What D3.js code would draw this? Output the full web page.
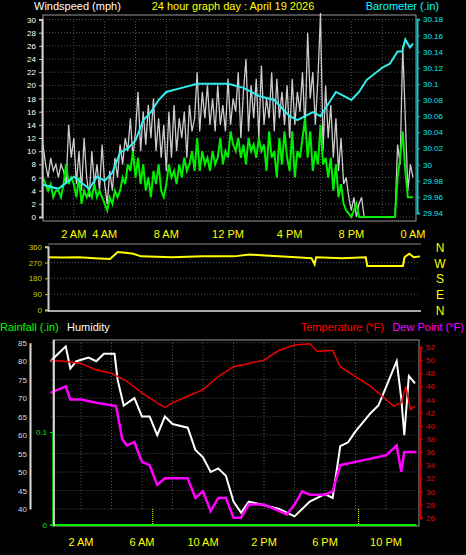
<!DOCTYPE html>
<html><head><meta charset="utf-8">
<script src="https://cdn.jsdelivr.net/npm/d3@7"></script>
<style>body{margin:0;background:#000}svg{display:block}text{font-family:"Liberation Sans",Arial,sans-serif}</style>
</head><body><svg id="c" width="466" height="555"></svg>
<script>
// ---- data ----
const windGust=[11,8,6,9,7,8, 6,8,7,5,14,9, 12,5,10,4,12,6, 3,10,5,8,4,11, 5,2,7,4,9,6, 11,8,12,10,15,9, 13,19,10,16,11,17, 12,18,10,15,9,14, 7,16,9,17,10,15, 12,16,9,17,13,15, 22,13,19,15,20,14, 18,13,20,14,17,13, 21,14,18,16,22,12, 19,24,13,20,15,21, 12,23,14,18,15,22, 13,21,15,19,14,20, 12,21,14,19,16,22, 13,28,18,22,14,21, 31,10,20,12,17,9, 15,7,12,5,6,3, 1,3,0,2,3,0, 0,0,0,0,0,0, 0,0,0,0,0,0, 11,8,26,15,4,8, 6];
const windAvg=[6,5,4,5,3,4, 4,3,5,8,5,6, 5,3,6,2,4,3, 4,3,5,3,4,3, 2,1,3,2,4,3, 4,6,5,8,7,10, 6,9,5,8,4,6, 3,7,5,8,4,3, 5,8,6,7,5,8, 6,9,7,8,10,7, 12,7,10,8,9,7, 10,8,9,12,8,10, 9,13,11,10,12,9, 11,8,12,10,11,9, 12,10,11,7,13,9, 10,6,12,8,13,9, 7,13,6,10,9,12, 15,9,13,7,10,8, 14,8,9,6,9,4, 8,3,5,2,1,0.5, 0,1,2,0,0,0, 0,0,0,0,0,0, 0,0,0,0,0,0, 6,9,13,7,3,3, 3];
const baroT=[0,1,2,3,3.5,4,4.5,5,5.5,6,6.5,7,7.5,8,9,10,11,12,13,14,15,16,16.5,17,17.5,18,18.5,19,19.5,20,20.5,21,22,22.5,23,23.3,23.5,23.8,24];
const baroV=[29.975,29.97,29.985,29.97,29.985,29.98,29.99,30.015,30.02,30.03,30.055,30.065,30.08,30.09,30.095,30.1,30.1,30.1,30.095,30.085,30.08,30.06,30.055,30.06,30.065,30.06,30.075,30.09,30.085,30.08,30.09,30.105,30.12,30.125,30.14,30.14,30.155,30.145,30.15];
const dirT=[0,1,2,3,4,4.5,5,5.5,6,8,10,12,13,14,16,17,17.2,17.3,19,20.5,20.6,22.9,23,23.3,23.6,24];
const dirV=[300,298,300,295,290,330,325,320,305,300,305,305,315,310,300,295,260,300,295,300,250,250,300,320,300,305];
const humT=[0,0.5,1,1.3,1.7,2.5,3,3.5,4.2,4.4,4.8,5.5,6,6.5,7,7.5,8,9,9.5,10,10.5,11,11.5,12,12.5,13,14,15,16,17,18,18.5,19,19.5,20,21,21.5,22,22.7,23,23.2,23.5,23.9];
const humV=[80,82,84,78,80,81,80,82,82,75,68,70,65,65,60,65,63,62,56,54,50,51,49,42,39,42,41,40,38,42,44,43,57,58,61,66,68,73,80,70,60,76,74];
const dewT=[0,1,1.3,2,3,4.3,4.7,5,5.5,6,6.5,7,7.5,9,9.5,10,10.5,11,11.5,12,12.5,13,14,15,15.5,16,16.5,17,18,18.5,19,20,21,22,22.7,23,23.2,24];
const dewV=[45,46,44,44,43.5,43,38,37,37.5,34.5,34,31,32,32,29,30,27,29,29,26,26,28,28,27,26.5,28,30,29.5,29.5,30,34,34.5,35,35.5,37,33,36,36];
const tempT=[0,1,2,3,4,5,6,7,7.5,8,9,10,11,12,13,14,15,16,17,17.5,18.5,19,20,21,22,22.5,23,23.3,23.6,23.9];
const tempV=[50,49.8,49.5,48.5,48,46.8,45,43.5,42.8,43.5,44.5,45.5,47.5,49,49.5,50,51.5,52.3,52.5,51.3,51.5,49,47.5,46,44,43,43.5,46,42.5,43];
const rainV=[0,0];
const topTicks=[[2,"2 AM"],[4,"4 AM"],[8,"8 AM"],[12,"12 PM"],[16,"4 PM"],[20,"8 PM"],[24,"0 AM"]];
const botTicks=[[2,"2 AM"],[6,"6 AM"],[10,"10 AM"],[14,"2 PM"],[18,"6 PM"],[22,"10 PM"]];
const compass=["N","W","S","E","N"];
const sunEvents=[6.7,20.2];

const svg=d3.select("#c");
const grid="#555",frame="#999";
function txt(x,y,s,c,anchor,size){svg.append("text").attr("x",x).attr("y",y).attr("fill",c).attr("font-size",size||10).attr("text-anchor",anchor||"start").text(s);}
function gridLines(x,y,xv,yv){
  const g=svg.append("g").attr("stroke",grid).attr("stroke-dasharray","1,2");
  xv.forEach(v=>g.append("line").attr("x1",x(v)).attr("x2",x(v)).attr("y1",y.range()[0]).attr("y2",y.range()[1]));
  yv.forEach(v=>g.append("line").attr("y1",y(v)).attr("y2",y(v)).attr("x1",x.range()[0]).attr("x2",x.range()[1]));
}
function line(x,y,ts,vs,c,w){svg.append("path").attr("d",d3.line().x((d,i)=>x(ts[i])).y(d=>y(d))(vs)).attr("fill","none").attr("stroke",c).attr("stroke-width",w||1.5);}

// ---- top panel ----
txt(34,10,"Windspeed (mph)","#fff","start",11);
txt(233,10,"24 hour graph day : April 19 2026","#ff0","middle",11);
txt(439,10,"Barometer (.in)","#0ff","end",11);
const x1=d3.scaleLinear([0,24],[43,413]);
const y1=d3.scaleLinear([0,30],[217,19.5]);
const yb=d3.scaleLinear([29.94,30.18],[213,19.3]);
gridLines(x1,y1,d3.range(2,24,2),d3.range(0,31,2));
svg.append("rect").attr("x",43).attr("y",15).attr("width",373).attr("height",206).attr("fill","none").attr("stroke",frame);
const step=24/(windGust.length-1), stepA=24/(windAvg.length-1);
line(x1,y1,windGust.map((d,i)=>i*step),windGust,"#ccc",1.3);
line(x1,y1,windAvg.map((d,i)=>i*stepA),windAvg,"#0e0",2);
line(x1,yb,baroT,baroV,"#3ee",2);
svg.append("g").attr("transform","translate(42,0)").call(d3.axisLeft(y1).tickValues(d3.range(0,31,2)).tickSize(3)).call(g=>{g.select(".domain").attr("stroke","#ccc").attr("stroke-width",2);g.selectAll("line").attr("stroke","#ccc");g.selectAll("text").attr("fill","#fff").attr("font-size",8);});
svg.append("g").attr("transform","translate(417,0)").call(d3.axisRight(yb).tickValues(d3.range(29.94,30.181,0.02)).tickFormat(d=>+d.toFixed(2)).tickSize(3)).call(g=>{g.select(".domain").attr("stroke","#0cc").attr("stroke-width",2);g.selectAll("line").attr("stroke","#0cc");g.selectAll("text").attr("fill","#0ee").attr("font-size",8);});
topTicks.forEach(([h,s])=>txt(x1(h),238,s,"#ff0","middle",11));

// ---- middle panel ----
const x2=d3.scaleLinear([0,24],[48,420]);
const y2=d3.scaleLinear([0,360],[310,246.7]);
gridLines(x2,y2,[],[90,180,270]);
svg.append("line").attr("x1",48).attr("x2",421).attr("y1",244).attr("y2",244).attr("stroke","#888");
svg.append("line").attr("x1",48).attr("x2",421).attr("y1",311).attr("y2",311).attr("stroke","#aaa").attr("stroke-width",2);
line(x2,y2,dirT,dirV,"#ff0",2);
svg.append("g").attr("transform","translate(48,0)").call(d3.axisLeft(y2).tickValues([0,90,180,270,360]).tickSize(3)).call(g=>{g.select(".domain").attr("stroke","#ccc").attr("stroke-width",2);g.selectAll("line").attr("stroke","#cc0");g.selectAll("text").attr("fill","#cc0").attr("font-size",8);});
compass.forEach((s,i)=>txt(440,y2(360-i*90)+5,s,"#ff0","middle",12));

// ---- bottom panel ----
txt(0,331,"Rainfall (.in)","#0f0","start",11);
txt(67,331,"Humidity","#fff","start",11);
txt(384,331,"Temperature (°F)","#f00","end",11);
txt(464,331,"Dew Point (°F)","#f0f","end",11);
const x3=d3.scaleLinear([0,24],[50.5,416.5]);
const yh=d3.scaleLinear([40,85],[509,342.7]);
const yt=d3.scaleLinear([26,52],[517.7,347]);
const yr=d3.scaleLinear([0,0.1],[525,432]);
gridLines(x3,yh,d3.range(2,24,2),d3.range(40,86,5));
svg.append("rect").attr("x",53).attr("y",340).attr("width",366).attr("height",186).attr("fill","none").attr("stroke",frame);
sunEvents.forEach(h=>svg.append("line").attr("x1",x3(h)).attr("x2",x3(h)).attr("y1",509).attr("y2",525).attr("stroke","#ff0").attr("stroke-dasharray","1,1"));
line(x3,yh,humT,humV,"#fff",2);
line(x3,yt,dewT,dewV,"#f0f",2.5);
line(x3,yt,tempT,tempV,"#e00",1.5);
line(x3,yr,[0,24],rainV,"#0e0",2);
svg.append("g").attr("transform","translate(30,0)").call(d3.axisLeft(yh).tickValues(d3.range(40,86,5)).tickSize(0)).call(g=>{g.select(".domain").attr("stroke","#ddd").attr("stroke-width",2);g.selectAll("text").attr("fill","#ddd").attr("font-size",8);});
svg.append("g").attr("transform","translate(52,0)").call(d3.axisLeft(yr).tickValues([0,0.1]).tickFormat(d3.format("")).tickSize(2)).call(g=>{g.select(".domain").attr("stroke","#0a0");g.selectAll("line").attr("stroke","#0e0");g.selectAll("text").attr("fill","#0e0").attr("font-size",8);});
svg.append("line").attr("x1",54).attr("x2",54).attr("y1",340).attr("y2",526).attr("stroke","#fff").attr("stroke-width",1.5);
svg.append("g").attr("transform","translate(420,0)").call(d3.axisRight(yt).tickValues(d3.range(26,53,2)).tickSize(3)).call(g=>{g.select(".domain").attr("stroke","#c00").attr("stroke-width",2);g.selectAll("line").attr("stroke","#c00");g.selectAll("text").attr("fill","#e00").attr("font-size",8);});
botTicks.forEach(([h,s])=>txt(x3(h),546,s,"#ff0","middle",11));
</script></body></html>
